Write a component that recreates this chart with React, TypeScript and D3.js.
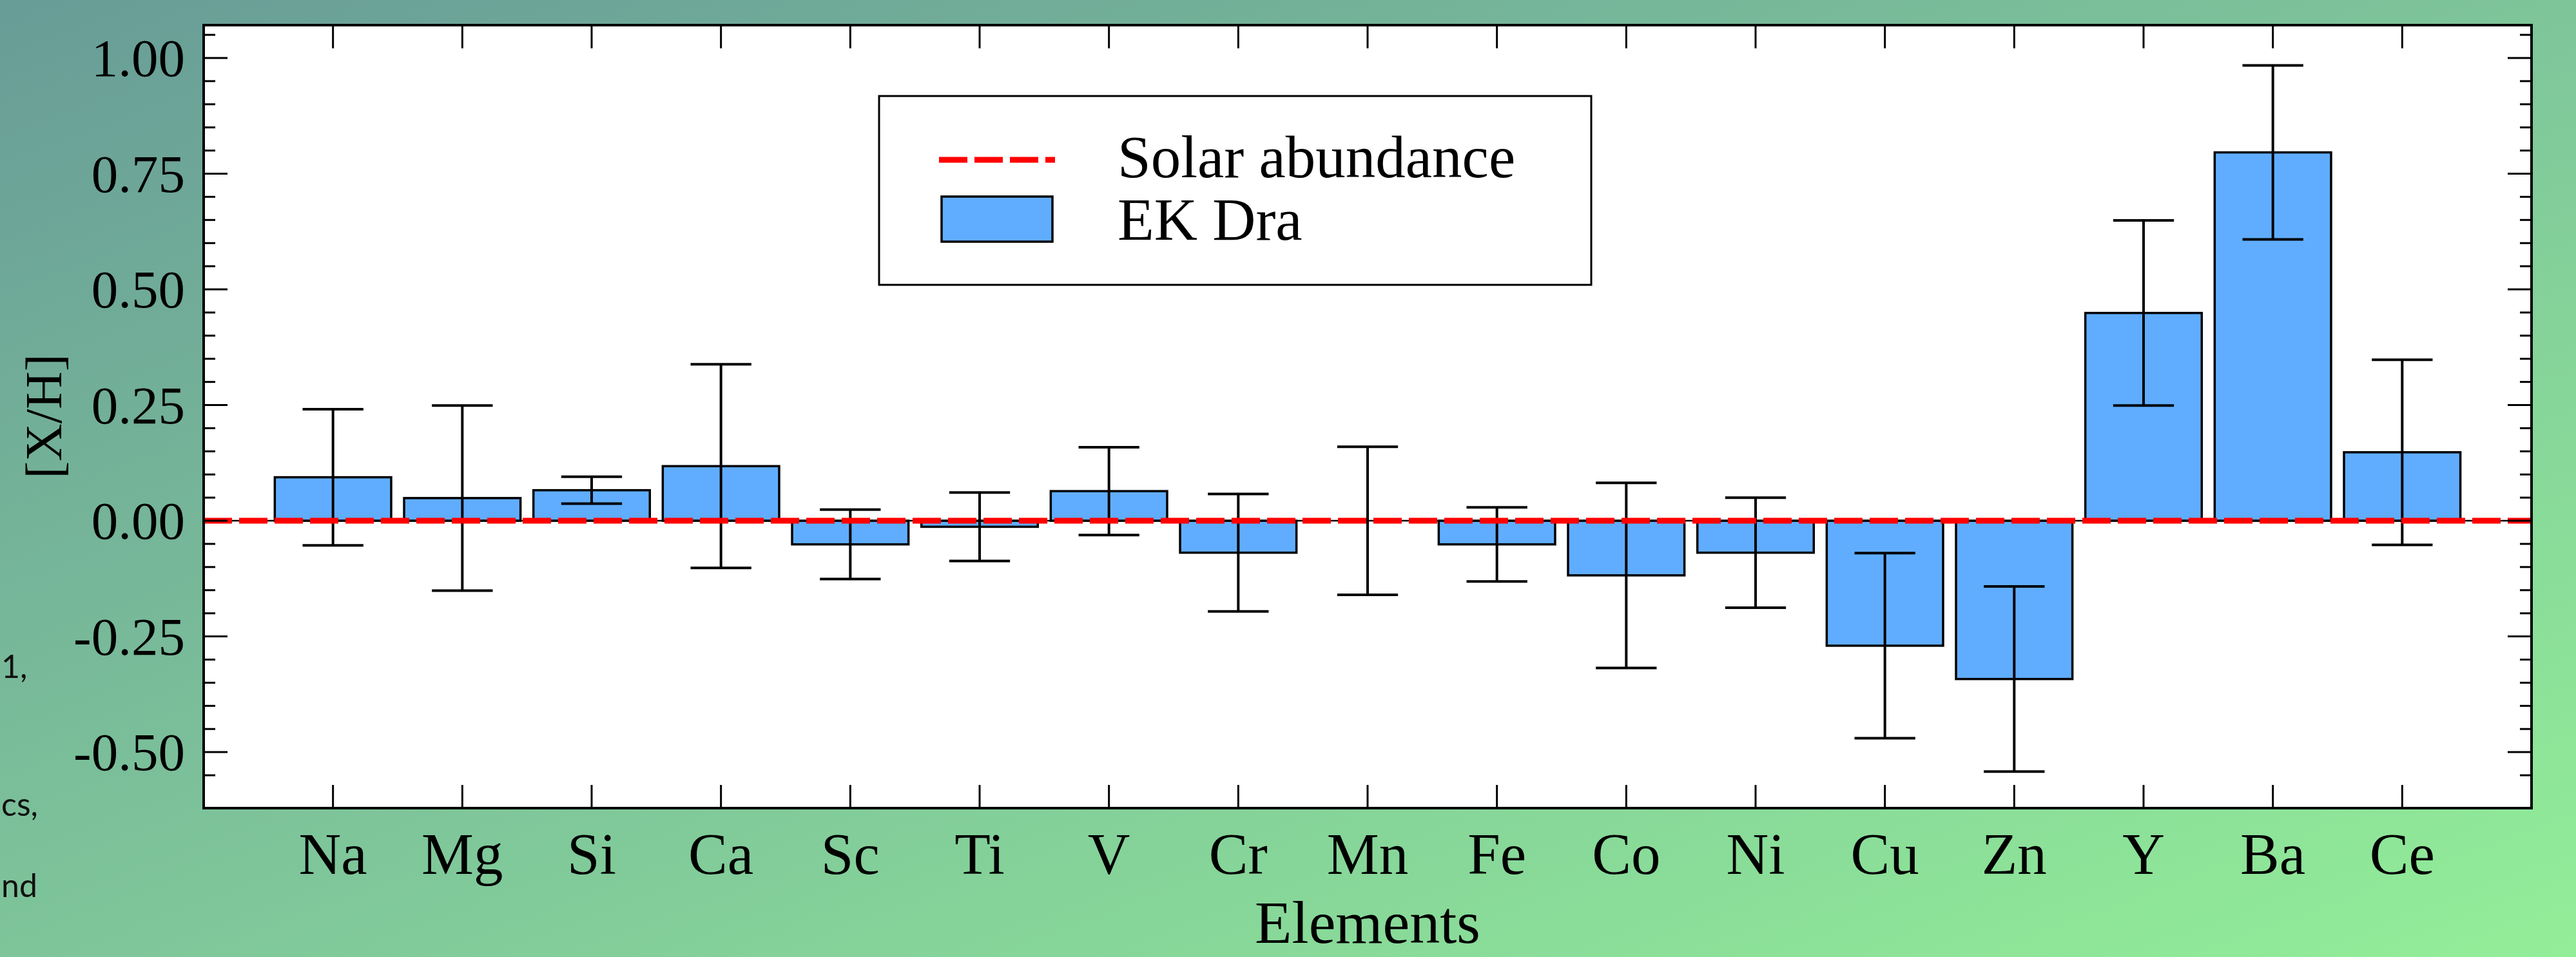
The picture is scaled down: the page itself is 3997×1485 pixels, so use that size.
// Element abundance bar chart for EK Dra relative to solar

import { useEffect, useRef } from "react";
import * as d3 from "d3";

const elements = ["Na", "Mg", "Si", "Ca", "Sc", "Ti", "V", "Cr", "Mn", "Fe", "Co", "Ni", "Cu", "Zn", "Y", "Ba", "Ce"];
const abundance = [0.094, 0.049, 0.066, 0.118, -0.051, -0.013, 0.064, -0.069, 0.0, -0.051, -0.118, -0.069, -0.27, -0.342, 0.449, 0.796, 0.148];
const errors = [0.147, 0.2, 0.029, 0.22, 0.075, 0.074, 0.095, 0.127, 0.16, 0.08, 0.2, 0.119, 0.2, 0.2, 0.2, 0.188, 0.2];
const yTicks = [-0.5, -0.25, 0, 0.25, 0.5, 0.75, 1.0];
const legendLabels = ["Solar abundance", "EK Dra"];
const xLabel = "Elements";
const yLabel = "[X/H]";
const sideNotes = ["1,", "cs,", "nd"];

const W = 3997;
const H = 1485;
const SERIF = "'Liberation Serif', 'Times New Roman', serif";

export default function App() {
  const svgRef = useRef<SVGSVGElement>(null);

  useEffect(() => {
    if (!svgRef.current) return;
    const svg = d3.select(svgRef.current);
    svg.selectAll("*").remove();

    const left = 316, right = 3928, top = 39, bottom = 1254;

    const x = d3.scaleLinear().domain([-1, elements.length]).range([left, right]);
    const y = d3.scaleLinear().domain([-0.621, 1.071]).range([bottom, top]);
    const unit = x(1) - x(0);
    const barW = unit * 0.9;
    const cap = unit * 0.235;

    // background
    const defs = svg.append("defs");
    const grad = defs.append("linearGradient").attr("id", "bg")
      .attr("x1", 0).attr("y1", 0).attr("x2", 1).attr("y2", 1);
    grad.append("stop").attr("offset", "0%").attr("stop-color", "#689c97");
    grad.append("stop").attr("offset", "50%").attr("stop-color", "#7ec59a");
    grad.append("stop").attr("offset", "100%").attr("stop-color", "#93ee98");
    svg.append("rect").attr("width", W).attr("height", H).attr("fill", "url(#bg)");

    // fragments of slide text behind the figure
    svg.append("g")
      .selectAll("text")
      .data(sideNotes)
      .enter()
      .append("text")
      .attr("x", 2)
      .attr("y", (d, i) => [1052, 1266, 1392][i])
      .attr("fill", "#111")
      .style("font-family", "Lato, 'Open Sans', sans-serif")
      .style("font-size", "50px")
      .text((d) => d);

    svg.append("rect")
      .attr("x", left).attr("y", top)
      .attr("width", right - left).attr("height", bottom - top)
      .attr("fill", "#fff");

    // bars
    svg.append("g")
      .selectAll("rect")
      .data(abundance)
      .enter()
      .append("rect")
      .attr("x", (d, i) => x(i) - barW / 2)
      .attr("y", (d) => y(Math.max(0, d)))
      .attr("width", barW)
      .attr("height", (d) => Math.abs(y(d) - y(0)))
      .attr("fill", "#60adff")
      .attr("stroke", "#000")
      .attr("stroke-width", 3.5);

    // error bars
    const eb = svg.append("g").attr("stroke", "#000").attr("stroke-width", 4);
    abundance.forEach((v, i) => {
      const cx = x(i);
      const y1 = y(v + errors[i]);
      const y2 = y(v - errors[i]);
      eb.append("line").attr("x1", cx).attr("x2", cx).attr("y1", y1).attr("y2", y2);
      eb.append("line").attr("x1", cx - cap).attr("x2", cx + cap).attr("y1", y1).attr("y2", y1);
      eb.append("line").attr("x1", cx - cap).attr("x2", cx + cap).attr("y1", y2).attr("y2", y2);
    });

    // zero line: thin black under red dashes
    svg.append("line")
      .attr("x1", left).attr("x2", right)
      .attr("y1", y(0)).attr("y2", y(0))
      .attr("stroke", "#000").attr("stroke-width", 2.5);
    svg.append("line")
      .attr("x1", left).attr("x2", right)
      .attr("y1", y(0)).attr("y2", y(0))
      .attr("stroke", "#ff0000").attr("stroke-width", 9)
      .attr("stroke-dasharray", "44 11");

    // ticks
    const ticks = svg.append("g").attr("stroke", "#000");
    const minor = d3.range(-12, 22).map((k) => k * 0.05).filter((v) => v >= -0.6 && v <= 1.06);
    minor.forEach((v) => {
      const major = yTicks.some((t) => Math.abs(t - v) < 1e-6);
      const len = major ? 37 : 18;
      ticks.append("line").attr("x1", left).attr("x2", left + len)
        .attr("y1", y(v)).attr("y2", y(v)).attr("stroke-width", 3);
      ticks.append("line").attr("x1", right).attr("x2", right - len)
        .attr("y1", y(v)).attr("y2", y(v)).attr("stroke-width", 3);
    });
    elements.forEach((e, i) => {
      ticks.append("line").attr("x1", x(i)).attr("x2", x(i))
        .attr("y1", bottom).attr("y2", bottom - 36).attr("stroke-width", 3);
      ticks.append("line").attr("x1", x(i)).attr("x2", x(i))
        .attr("y1", top).attr("y2", top + 36).attr("stroke-width", 3);
    });

    // frame
    svg.append("rect")
      .attr("x", left).attr("y", top)
      .attr("width", right - left).attr("height", bottom - top)
      .attr("fill", "none").attr("stroke", "#000").attr("stroke-width", 4);

    // tick labels
    svg.append("g")
      .selectAll("text")
      .data(yTicks)
      .enter()
      .append("text")
      .attr("x", 287)
      .attr("y", (d) => y(d) + 28)
      .attr("text-anchor", "end")
      .style("font-family", SERIF)
      .style("font-size", "83px")
      .text((d) => d.toFixed(2));

    svg.append("g")
      .selectAll("text")
      .data(elements)
      .enter()
      .append("text")
      .attr("x", (d, i) => x(i))
      .attr("y", 1356)
      .attr("text-anchor", "middle")
      .style("font-family", SERIF)
      .style("font-size", "91px")
      .text((d) => d);

    // axis titles
    svg.append("text")
      .attr("x", (left + right) / 2)
      .attr("y", 1463)
      .attr("text-anchor", "middle")
      .style("font-family", SERIF)
      .style("font-size", "94px")
      .text(xLabel);

    svg.append("text")
      .attr("transform", "translate(95, 646) rotate(-90)")
      .attr("text-anchor", "middle")
      .style("font-family", SERIF)
      .style("font-size", "81px")
      .text(yLabel);

    // legend
    const lg = svg.append("g");
    lg.append("rect")
      .attr("x", 1364).attr("y", 149).attr("width", 1105).attr("height", 293)
      .attr("fill", "#fff").attr("stroke", "#000").attr("stroke-width", 3);
    lg.append("line")
      .attr("x1", 1457).attr("x2", 1637).attr("y1", 248).attr("y2", 248)
      .attr("stroke", "#ff0000").attr("stroke-width", 9).attr("stroke-dasharray", "44 11");
    lg.append("rect")
      .attr("x", 1461).attr("y", 305).attr("width", 172).attr("height", 70)
      .attr("fill", "#60adff").attr("stroke", "#000").attr("stroke-width", 3.5);
    lg.selectAll("text.leg")
      .data(legendLabels)
      .enter()
      .append("text")
      .attr("class", "leg")
      .attr("x", 1734)
      .attr("y", (d, i) => [275, 372][i])
      .style("font-family", SERIF)
      .style("font-size", "93px")
      .text((d) => d);
  }, []);

  return (
    <svg
      ref={svgRef}
      width={W}
      height={H}
      style={{ position: "fixed", left: 0, top: 0, display: "block" }}
    />
  );
}
